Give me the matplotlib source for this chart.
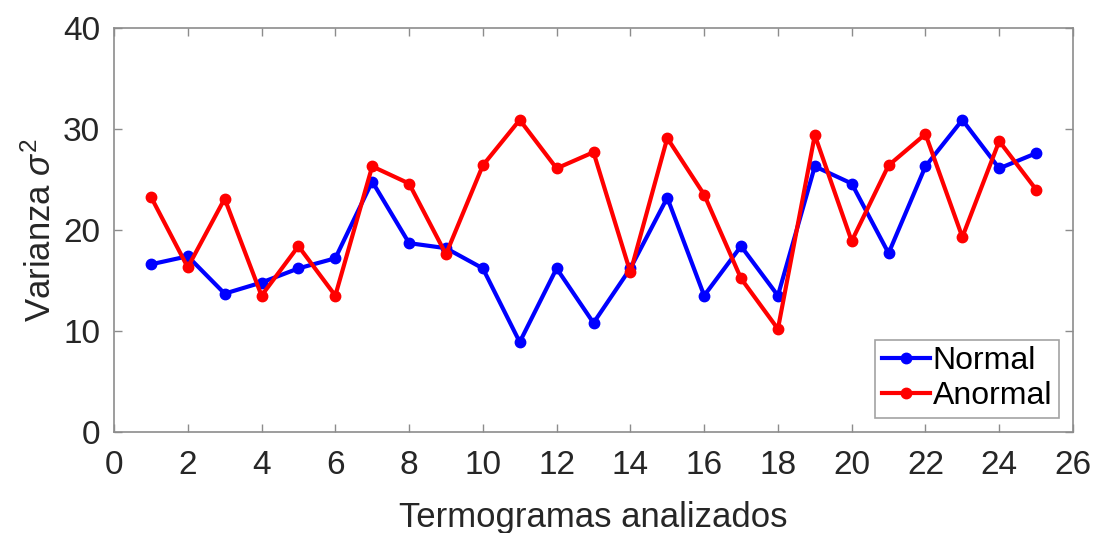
import matplotlib
matplotlib.use("Agg")
import matplotlib.pyplot as plt

plt.rcParams['font.family'] = ['Liberation Sans', 'DejaVu Sans']
plt.rcParams['mathtext.fontset'] = 'custom'
plt.rcParams['mathtext.rm'] = 'Liberation Sans'
plt.rcParams['mathtext.it'] = 'Liberation Sans:italic'

termogramas = list(range(1, 26))
normal = [16.6, 17.4, 13.7, 14.8, 16.2, 17.2, 24.8, 18.7, 18.2, 16.2, 8.9, 16.2, 10.8,
          16.2, 23.2, 13.5, 18.4, 13.5, 26.3, 24.6, 17.7, 26.3, 30.9, 26.1, 27.6]
anormal = [23.3, 16.3, 23.1, 13.5, 18.4, 13.5, 26.3, 24.6, 17.6, 26.4, 30.9, 26.1, 27.7,
           15.8, 29.1, 23.5, 15.2, 10.2, 29.4, 18.9, 26.4, 29.5, 19.3, 28.8, 24.0]
xticks = list(range(0, 27, 2))
yticks = [0, 10, 20, 30, 40]

fig = plt.figure(figsize=(10.98, 5.33), dpi=100)
ax = fig.add_axes([114 / 1098, 1 - 432 / 533, (1073 - 114) / 1098, (432 - 28) / 533])

ax.plot(termogramas, normal, color='#0000ff', lw=3.0, marker='o', ms=7.5, label='Normal')
ax.plot(termogramas, anormal, color='#ff0000', lw=3.0, marker='o', ms=7.5, label='Anormal')

ax.set_xlim(0, 26)
ax.set_ylim(0, 40)
ax.set_xticks(xticks)
ax.set_yticks(yticks)
ax.tick_params(direction='in', top=True, right=True, length=6, width=1.0,
               color='#8c8c8c', labelsize=24, labelcolor='#262626')
ax.tick_params(axis='x', pad=13)
ax.tick_params(axis='y', pad=10)
for s in ax.spines.values():
    s.set_color('#8c8c8c')
    s.set_linewidth(1.2)

ax.set_xlabel('Termogramas analizados', fontsize=25, color='#262626', labelpad=14)
ax.set_ylabel(r'Varianza $\sigma^{\mathregular{2}}$', fontsize=25, color='#262626', labelpad=4)

leg = ax.legend(loc='lower right', fontsize=23, frameon=True, fancybox=False,
                edgecolor='#8c8c8c', handlelength=1.5, handletextpad=0.1,
                borderpad=0.2, labelspacing=0.15, borderaxespad=0.45)
leg.get_frame().set_linewidth(1.2)
for t in leg.get_texts():
    t.set_color('#000000')

fig.savefig('out.png', dpi=100, facecolor='white')
